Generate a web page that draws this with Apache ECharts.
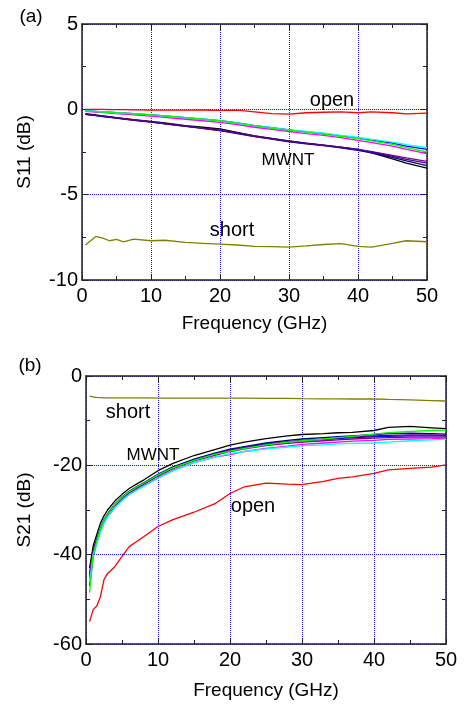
<!DOCTYPE html>
<html lang="en">
<head>
    <meta charset="UTF-8">
    <title>S11 / S21</title>
    <script src="https://cdn.jsdelivr.net/npm/echarts@6/dist/echarts.min.js"></script>
    <style>
        html, body { margin: 0; padding: 0; background: #fff; }
        #main { width: 465px; height: 708px; }
    </style>
</head>
<body>
<div id="main"></div>
<script>
    // ---- panel (a) : S11 ----
    let freqA = [0.5, 2, 3, 4, 5, 6, 7.5, 10, 12, 15, 17.5, 20, 22.5, 25, 27.5, 30, 32.5, 35, 37.5, 40, 42, 45, 47, 50];
    let openA = [0, 0, 0, -0.02, -0.02, -0.02, -0.03, -0.05, -0.05, -0.05, -0.04, -0.06, -0.05, -0.15, -0.25, -0.28, -0.2, -0.17, -0.15, -0.2, -0.15, -0.2, -0.27, -0.22];
    let shortA = [-7.95, -7.45, -7.55, -7.7, -7.62, -7.77, -7.6, -7.7, -7.67, -7.8, -7.85, -7.9, -7.95, -8.03, -8.05, -8.07, -8.0, -7.92, -7.87, -8.03, -8.07, -7.85, -7.7, -7.76];
    let mwntA = {
        black:   [-0.25, -0.33, -0.38, -0.43, -0.48, -0.53, -0.6, -0.7, -0.8, -0.95, -1.05, -1.15, -1.35, -1.55, -1.7, -1.85, -1.98, -2.1, -2.22, -2.35, -2.55, -2.9, -3.15, -3.45],
        navy:    [-0.3, -0.37, -0.42, -0.47, -0.52, -0.57, -0.64, -0.75, -0.85, -1.0, -1.12, -1.25, -1.42, -1.6, -1.75, -1.9, -2.02, -2.13, -2.25, -2.4, -2.55, -2.82, -3.02, -3.3],
        purple:  [-0.3, -0.36, -0.41, -0.46, -0.51, -0.56, -0.63, -0.74, -0.84, -0.99, -1.11, -1.24, -1.4, -1.58, -1.73, -1.88, -2.0, -2.1, -2.22, -2.35, -2.48, -2.7, -2.85, -3.05],
        violet:  [-0.28, -0.35, -0.4, -0.45, -0.5, -0.55, -0.62, -0.73, -0.83, -0.98, -1.1, -1.22, -1.38, -1.56, -1.72, -1.87, -1.99, -2.11, -2.23, -2.37, -2.5, -2.75, -2.93, -3.15],
        blue:    [-0.08, -0.12, -0.15, -0.17, -0.2, -0.22, -0.25, -0.32, -0.38, -0.48, -0.57, -0.66, -0.8, -0.95, -1.08, -1.2, -1.32, -1.42, -1.55, -1.68, -1.8, -1.98, -2.15, -2.35],
        magenta: [-0.12, -0.16, -0.19, -0.22, -0.25, -0.28, -0.32, -0.4, -0.47, -0.58, -0.67, -0.76, -0.9, -1.05, -1.18, -1.3, -1.42, -1.53, -1.66, -1.82, -1.95, -2.15, -2.35, -2.6],
        cyan:    [-0.08, -0.12, -0.15, -0.17, -0.2, -0.22, -0.25, -0.32, -0.38, -0.48, -0.57, -0.66, -0.8, -0.95, -1.08, -1.2, -1.3, -1.4, -1.52, -1.65, -1.76, -1.92, -2.07, -2.25],
        green:   [-0.09, -0.13, -0.16, -0.18, -0.21, -0.23, -0.26, -0.33, -0.39, -0.49, -0.58, -0.67, -0.81, -0.96, -1.1, -1.22, -1.34, -1.45, -1.58, -1.72, -1.85, -2.05, -2.25, -2.5]
    };

    // ---- panel (b) : S21 ----
    let freqB = [0.5, 1, 1.5, 2, 2.5, 3, 4, 5, 6, 7, 8, 10, 12, 15, 18, 20, 22, 25, 28, 30, 33, 35, 37, 40, 42, 45, 48, 50];
    let openB = [-55, -52.3, -51.5, -49.4, -45.6, -44.2, -42.7, -40.4, -38.2, -37.1, -36, -33.7, -32.2, -30.5, -28.5, -26.3, -24.8, -24, -24.2, -24.3, -23.6, -22.9, -22.6, -21.8, -21, -20.7, -20.4, -19.9];
    let shortB = [-4.5, -4.7, -4.8, -4.85, -4.9, -4.9, -4.9, -4.9, -4.9, -4.9, -4.9, -4.95, -4.95, -4.95, -4.95, -4.95, -4.95, -5.0, -5.0, -5.05, -5.1, -5.1, -5.15, -5.15, -5.25, -5.35, -5.5, -5.6];
    let mwntB = {
        black:   [-43, -38, -35.5, -33, -31.3, -30, -28, -26.5, -25.2, -24.2, -23.3, -21.2, -19.6, -17.8, -16.4, -15.5, -14.8, -14, -13.4, -13.1, -12.9, -12.7, -12.6, -12.2, -11.5, -11.3, -11.6, -11.8],
        navy:    [-44.5, -39, -36.5, -34, -32.2, -30.8, -28.7, -27.1, -25.8, -24.8, -23.9, -22, -20.4, -18.6, -17.2, -16.4, -15.8, -15, -14.4, -14.1, -13.8, -13.6, -13.4, -13.1, -12.9, -12.8, -12.9, -13.0],
        blue:    [-47, -40.5, -37.2, -34.6, -32.6, -31.2, -29, -27.4, -26.1, -25.1, -24.2, -22.3, -20.7, -18.9, -17.5, -16.7, -16.1, -15.3, -14.8, -14.5, -14.2, -14, -13.8, -13.6, -13.5, -13.4, -13.4, -13.4],
        purple:  [-44, -39.2, -36.8, -34.4, -32.5, -31.1, -29, -27.4, -26.1, -25.1, -24.2, -22.4, -20.8, -19, -17.7, -16.9, -16.3, -15.6, -15.1, -14.8, -14.5, -14.3, -14.1, -13.9, -13.8, -13.7, -13.7, -13.7],
        violet:  [-45, -39.5, -36.9, -34.3, -32.4, -31, -28.9, -27.3, -26, -25, -24.1, -22.2, -20.6, -18.8, -17.4, -16.6, -16, -15.2, -14.7, -14.4, -14.1, -13.9, -13.7, -13.4, -13.3, -13.2, -13.2, -13.3],
        magenta: [-45.5, -39.8, -37.2, -34.8, -32.9, -31.5, -29.4, -27.8, -26.5, -25.5, -24.6, -22.8, -21.2, -19.4, -18.1, -17.6, -16.9, -16.2, -15.7, -15.3, -15.0, -14.8, -14.6, -14.4, -14.2, -14.1, -14.0, -13.9],
        cyan:    [-46, -40.2, -37.5, -35, -33, -31.6, -29.5, -27.9, -26.6, -25.6, -24.7, -22.9, -21.3, -19.4, -18.1, -17.4, -16.9, -16.3, -15.9, -15.6, -15.4, -15.2, -15.1, -15.0, -14.8, -14.5, -14.3, -14.2],
        green:   [-48.5, -40, -37, -34.2, -32.3, -31, -28.8, -27.2, -25.9, -24.9, -24, -22.2, -20.6, -18.9, -17.5, -16.8, -16.2, -15.4, -14.8, -14.5, -14.1, -13.8, -13.5, -13.0, -12.7, -12.4, -12.2, -12.1]
    };

    let mwntColors = {
        black: '#000000', navy: '#000080', blue: '#0000ff', purple: '#800080',
        violet: '#4b0090', magenta: '#ff00ff', cyan: '#00ffff', green: '#00ff00'
    };

    let font = 'Liberation Sans, Arial, sans-serif';
    let frameColor = '#222';

    function pairs(xs, ys) {
        return xs.map(function(x, i) { return [x, ys[i]]; });
    }

    function lineSeries(name, xs, ys, color, idx) {
        return {
            name: name,
            type: 'line',
            xAxisIndex: idx,
            yAxisIndex: idx,
            data: pairs(xs, ys),
            showSymbol: false,
            symbol: 'none',
            lineStyle: { color: color, width: 1.3 },
            z: 3
        };
    }

    function mainX(gridIndex, nameGap) {
        return {
            type: 'value', gridIndex: gridIndex, position: 'bottom',
            min: 0, max: 50, interval: 10,
            name: 'Frequency (GHz)', nameLocation: 'middle', nameGap: nameGap,
            nameTextStyle: { fontFamily: font, fontSize: 19, color: '#000' },
            axisLine: { show: true, onZero: false, lineStyle: { color: frameColor, width: 1.5 } },
            axisTick: { show: true, inside: true, length: 6, lineStyle: { color: frameColor } },
            minorTick: { show: true, splitNumber: 2, length: 4, lineStyle: { color: frameColor } },
            axisLabel: { fontFamily: font, fontSize: 20, color: '#000', margin: 6 },
            splitLine: { show: true, lineStyle: { color: '#1a1aff', type: 'dotted', width: 1 } }
        };
    }

    function sideAxis(kind, gridIndex, pos, min, max, interval) {
        return {
            type: 'value', gridIndex: gridIndex, position: pos,
            min: min, max: max, interval: interval,
            axisLine: { show: true, onZero: false, lineStyle: { color: frameColor, width: 1.5 } },
            axisTick: { show: true, inside: true, length: 6, lineStyle: { color: frameColor } },
            minorTick: { show: true, splitNumber: 2, length: 4, lineStyle: { color: frameColor } },
            axisLabel: { show: false },
            splitLine: { show: false }
        };
    }

    function mainY(gridIndex, min, max, interval, name, nameGap) {
        return {
            type: 'value', gridIndex: gridIndex, position: 'left',
            min: min, max: max, interval: interval,
            name: name, nameLocation: 'middle', nameGap: nameGap, nameRotate: 90,
            nameTextStyle: { fontFamily: font, fontSize: 19, color: '#000' },
            axisLine: { show: true, onZero: false, lineStyle: { color: frameColor, width: 1.5 } },
            axisTick: { show: true, inside: true, length: 6, lineStyle: { color: frameColor } },
            minorTick: { show: true, splitNumber: 2, length: 4, lineStyle: { color: frameColor } },
            axisLabel: { fontFamily: font, fontSize: 20, color: '#000', margin: 4 },
            splitLine: { show: true, lineStyle: { color: '#1a1aff', type: 'dotted', width: 1 } }
        };
    }

    let seriesConfig = [];
    Object.keys(mwntA).forEach(function(k) {
        seriesConfig.push(lineSeries('MWNT ' + k, freqA, mwntA[k], mwntColors[k], 0));
    });
    seriesConfig.push(lineSeries('open', freqA, openA, '#ff0000', 0));
    seriesConfig.push(lineSeries('short', freqA, shortA, '#808000', 0));
    Object.keys(mwntB).forEach(function(k) {
        seriesConfig.push(lineSeries('MWNT ' + k, freqB, mwntB[k], mwntColors[k], 2));
    });
    seriesConfig.push(lineSeries('open', freqB, openB, '#ff0000', 2));
    seriesConfig.push(lineSeries('short', freqB, shortB, '#808000', 2));

    function label(text, x, y, size) {
        return {
            type: 'text', x: x, y: y, z: 10,
            style: {
                text: text, fill: '#000', font: size + 'px ' + font,
                align: 'center', verticalAlign: 'middle',
                textAlign: 'center', textVerticalAlign: 'middle'
            }
        };
    }

    let myChart = echarts.init(document.getElementById('main'));
    myChart.setOption({
        animation: false,
        backgroundColor: '#fff',
        grid: [
            { left: 82, top: 24, width: 345, height: 256 },
            { left: 86, top: 376, width: 360, height: 268 }
        ],
        xAxis: [
            mainX(0, 34),
            sideAxis('x', 0, 'top', 0, 50, 10),
            mainX(1, 37),
            sideAxis('x', 1, 'top', 0, 50, 10)
        ],
        yAxis: [
            mainY(0, -10, 5, 5, 'S11 (dB)', 48),
            sideAxis('y', 0, 'right', -10, 5, 5),
            mainY(1, -60, 0, 20, 'S21 (dB)', 52),
            sideAxis('y', 1, 'right', -60, 0, 20)
        ],
        graphic: [
            label('(a)', 31, 17, 19),
            label('(b)', 30, 366, 19),
            label('open', 332, 100, 20),
            label('MWNT', 288, 160, 17),
            label('short', 232, 230, 20),
            label('short', 128, 412, 20),
            label('MWNT', 153, 455, 17),
            label('open', 253, 506, 20)
        ],
        series: seriesConfig
    });
</script>
</body>
</html>
